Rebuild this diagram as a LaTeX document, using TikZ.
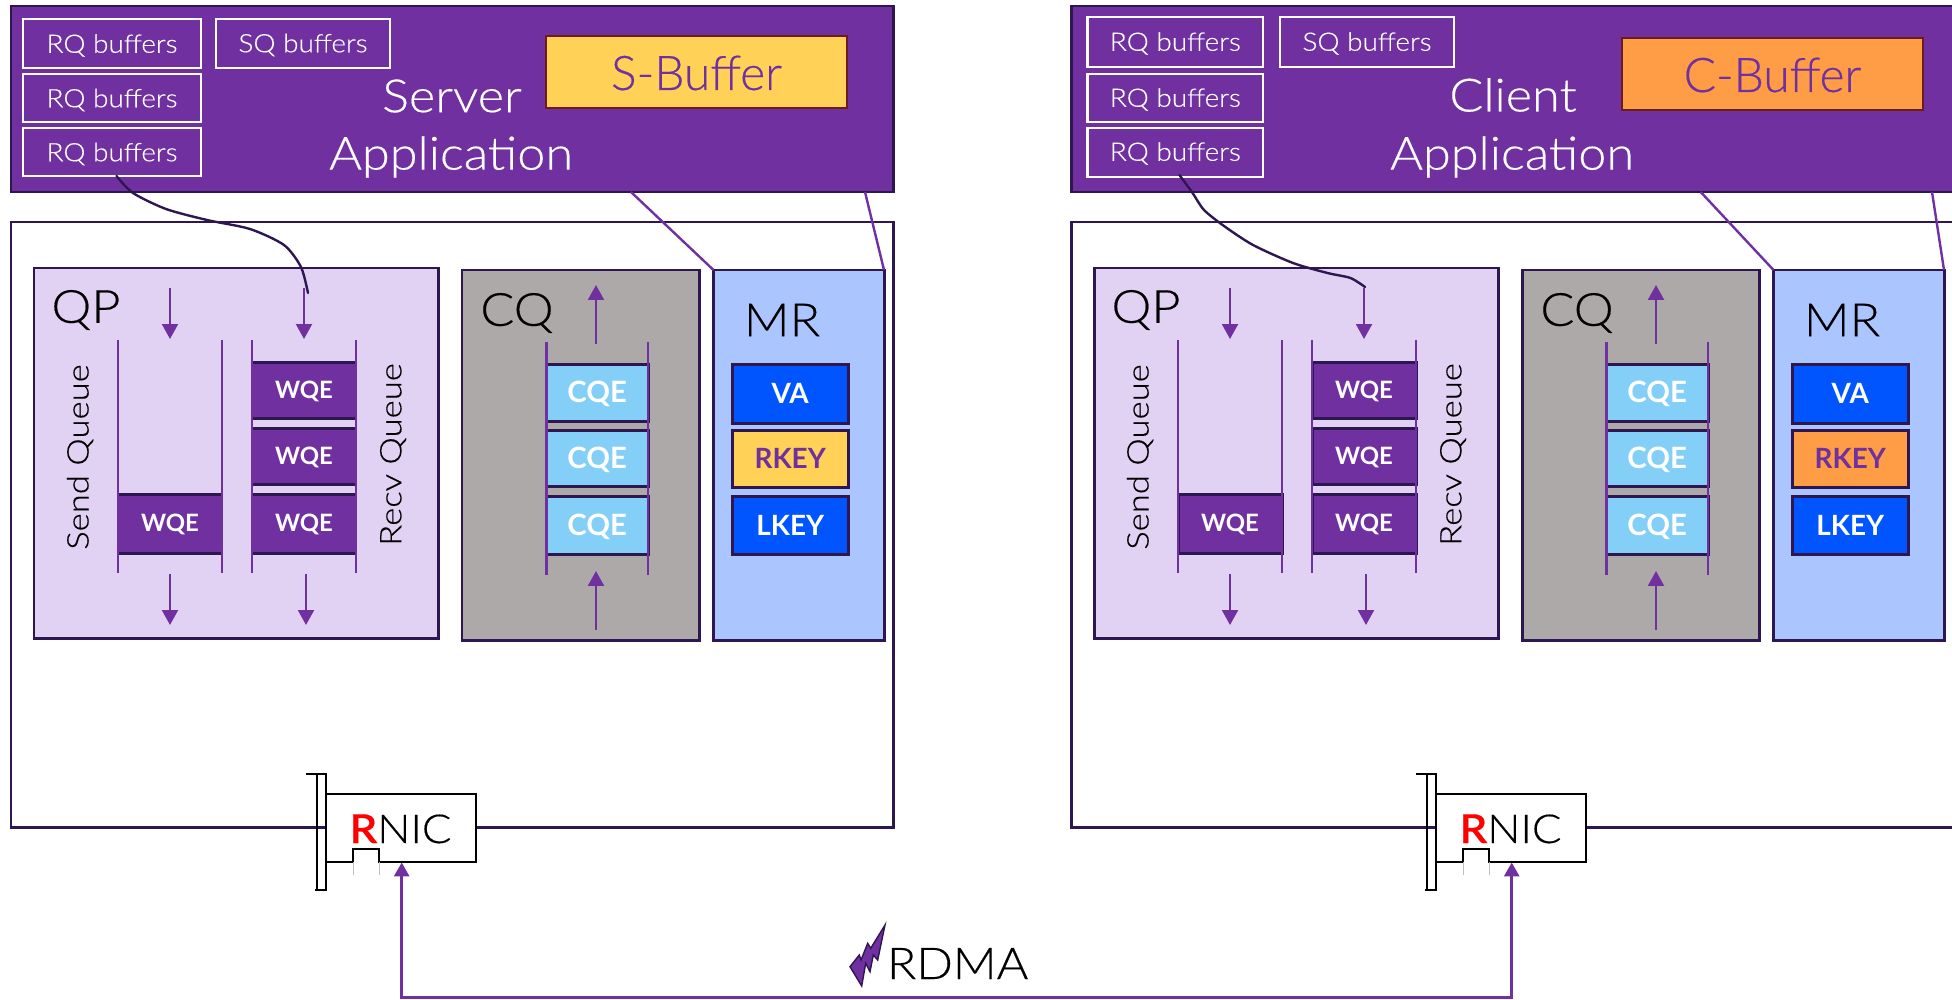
\documentclass[tikz,border=0pt]{standalone}
\usepackage{fontspec}
\setmainfont{Lato}
\newfontfamily\lite{Lato Light}[FakeBold=0.35]
\newfontfamily\litew{Lato Light}[FakeStretch=1.1,FakeBold=0.35]
\newfontfamily\liteq{Lato Light}[FakeStretch=1.16,FakeBold=0.3]
\usetikzlibrary{arrows.meta}
\definecolor{pur}{HTML}{7030A0}
\definecolor{dk}{HTML}{2E1650}
\definecolor{qpf}{HTML}{E1D1F3}
\definecolor{cqf}{HTML}{ADA9A9}
\definecolor{mrf}{HTML}{ABC6FF}
\definecolor{yel}{HTML}{FFD257}
\definecolor{ora}{HTML}{FF9D47}
\definecolor{blu}{HTML}{0055FF}
\definecolor{cqe}{HTML}{84CFF7}
\definecolor{bufb}{HTML}{6B1D1D}
% lower a node's text by half of #1
\newcommand\dn[2]{\raisebox{0pt}[\dimexpr\height+#1\relax][\depth]{#2}}
\tikzset{
  x=1bp,y=-1bp,
  plain/.style={draw=dk,line width=3pt,inner sep=0pt,outer sep=0pt,anchor=center},
  buf/.style={draw=white,line width=2.4pt,fill=pur,text=white,inner sep=0pt,outer sep=0pt,font=\litew\fontsize{25.5}{25.5}\selectfont},
  wqe/.style={plain,fill=pur,text=white,font=\bfseries\fontsize{24}{24}\selectfont},
  cqebox/.style={plain,fill=cqe,text=white,font=\bfseries\fontsize{29.5}{29.5}\selectfont},
  key/.style={plain,fill=blu,text=white,font=\bfseries\fontsize{28}{28}\selectfont},
  bigbuf/.style={draw=bufb,line width=2.8pt,inner sep=0pt,outer sep=0pt,text=pur,font=\lite\fontsize{48}{48}\selectfont},
  lab/.style={inner sep=0pt,outer sep=0pt,font=\litew\fontsize{46}{46}\selectfont},
  vlab/.style={inner sep=0pt,outer sep=0pt,rotate=90,font=\liteq\fontsize{30}{30}\selectfont},
  qline/.style={draw=pur,line width=2.4pt},
  arr/.style={draw=pur,line width=2.2pt,-{Triangle[length=15pt,width=16pt]}},
  link/.style={draw=pur,line width=2.4pt},
  wire/.style={draw=dk,line width=2.4pt,line cap=round},
  card/.style={draw=black,line width=2.4pt},
  net/.style={draw=pur,line width=3pt,{Triangle[length=14pt,width=15pt]}-{Triangle[length=14pt,width=15pt]}}
}
% \bx[style]{name}{x1}{y1}{x2}{y2}{text}
\newcommand\bx[7][]{%
  \pgfmathsetmacro\cxx{(#3+#5)/2}\pgfmathsetmacro\cyy{(#4+#6)/2}%
  \pgfmathsetmacro\wwd{#5-#3}\pgfmathsetmacro\hht{#6-#4}%
  \node[#1,minimum width=\wwd bp,minimum height=\hht bp] (#2) at (\cxx,\cyy) {#7};}
% \qsides{name}{x1}{x2}{y1}{y2}
\newcommand\qsides[5]{%
  \coordinate (#1a) at (#2,#4); \coordinate (#1b) at (#2,#5);
  \coordinate (#1c) at (#3,#4); \coordinate (#1d) at (#3,#5);
  \draw[qline] (#1a) -- (#1b); \draw[qline] (#1c) -- (#1d);}
\newcommand\arrw[5]{%
  \coordinate (#1s) at (#2,#3); \coordinate (#1e) at (#4,#5);
  \draw[arr] (#1s) -- (#1e);}
% panel: prefix, key fill, right edge of the outer box
\newcommand\panel[3]{%
  \bx[plain,fill=white]{#1outer}{11}{222}{#3}{827}{}
  \bx[plain,fill=qpf]{#1qp}{34}{268}{438.5}{638}{}
  \bx[plain,fill=cqf]{#1cq}{462}{270}{699}{640}{}
  \bx[plain,fill=mrf]{#1mr}{713.5}{270}{884}{640}{}
  \node[lab] (#1qpl) at (86,310) {QP};
  \node[lab] (#1cql) at (517,313) {CQ};
  \node[lab] (#1mrl) at (782,320) {MR};
  \node[vlab] (#1sq) at (80,457) {Send Queue};
  \node[vlab] (#1rq) at (393,454.5) {Recv Queue};
  \bx[wqe]{#1w1}{118}{494}{222}{553}{\dn{2pt}{WQE}}
  \bx[wqe]{#1w2}{252}{362}{356}{418}{\dn{2pt}{WQE}}
  \bx[wqe]{#1w3}{252}{428}{356}{484}{\dn{2pt}{WQE}}
  \bx[wqe]{#1w4}{252}{494}{356}{553}{\dn{2pt}{WQE}}
  \bx[cqebox]{#1c1}{546.5}{364}{648}{421}{\dn{3pt}{CQE}}
  \bx[cqebox]{#1c2}{546.5}{430}{648}{486}{\dn{3pt}{CQE}}
  \bx[cqebox]{#1c3}{546.5}{496}{648}{554}{\dn{3pt}{CQE}}
  \qsides{#1sl}{118}{222}{340}{573}
  \qsides{#1rl}{252}{356}{340}{573}
  \qsides{#1cl}{546.5}{648}{342}{575}
  \bx[key]{#1va}{732}{364}{848.5}{423}{VA}
  \bx[key,fill=#2,text=pur]{#1rk}{732}{430}{848.5}{487}{RKEY}
  \bx[key]{#1lk}{732}{496}{848.5}{554}{LKEY}
  \arrw{#1a1}{170}{288}{170}{339}
  \arrw{#1a2}{304}{288}{304}{339}
  \arrw{#1a3}{170}{574}{170}{625}
  \arrw{#1a4}{306}{574}{306}{625}
  \arrw{#1a5}{596}{344}{596}{285}
  \arrw{#1a6}{596}{630}{596}{571}
}
% RNIC card, prefix
\newcommand\rnic[1]{%
  \bx[draw=white,fill=white,inner sep=0pt,outer sep=0pt]{#1card}{327}{794}{476}{862}{}
  \draw[card] (327,794) -- (476,794) -- (476,862) -- (379,862) -- (379,849) -- (353,849) -- (353,862) -- (327,862);
  \draw[card] (306,774) -- (326,774) -- (326,890) -- (315,890);
  \draw[card] (317,774) -- (317,890);
  \draw[gray!50,line width=.6pt] (353,862) -- (353,875) (379,862) -- (379,875);
  \node[inner sep=0pt,outer sep=0pt,anchor=base west,font=\litew\fontsize{40}{40}\selectfont] (#1txt) at (349.5,843) {{\bfseries\color{red}R}NIC};
  \coordinate (#1in) at (401.7,862.5);
  \coordinate (#1low) at (401.7,997.5);
}
\begin{document}
\begin{tikzpicture}
\path[use as bounding box,clip] (0,0) rectangle (1952,999);
\fill[white] (0,0) rectangle (1952,999);
% left
\bx[plain,fill=pur]{lapp}{11}{6}{893}{192}{}
\panel{l}{yel}{893}
\bx[buf]{lb1}{23}{19}{201}{68}{\dn{4pt}{RQ buffers}}
\bx[buf]{lb2}{23}{74}{201}{122}{\dn{4pt}{RQ buffers}}
\bx[buf]{lb3}{23}{128}{201}{176}{\dn{4pt}{RQ buffers}}
\bx[buf]{lb4}{216}{19}{390}{68}{\dn{3pt}{SQ buffers}}
\bx[bigbuf,fill=yel]{lbuf}{546}{36}{847}{108}{\dn{2pt}{S-Buffer}}
\node[lab,text=white] (lserver) at (452,96) {Server};
\node[lab,text=white] (lappl) at (451,157) {Application};
\coordinate (ll1) at (631,192); \coordinate (ll2) at (865,192);
\draw[link] (ll1) -- (lmr.north west);
\draw[link] (ll2) -- (lmr.north east);
\coordinate (lws) at (116.5,176); \coordinate (lwe) at (308,293);
\draw[wire] plot[smooth,tension=.45] coordinates {(lws) (133,193) (166,209) (207,220) (250,229) (284,245) (301,267) (lwe)};
\rnic{l}
% right
\bx[plain,fill=pur]{rapp}{1071}{6}{1960}{192}{}
\begin{scope}[xshift=1060bp]
\panel{r}{ora}{900}
\end{scope}
\bx[buf]{rb1}{1087.6}{17}{1263}{67}{\dn{3pt}{RQ buffers}}
\bx[buf]{rb2}{1087.6}{74}{1263}{122}{\dn{3pt}{RQ buffers}}
\bx[buf]{rb3}{1087.6}{128}{1263}{177}{\dn{2pt}{RQ buffers}}
\bx[buf]{rb4}{1280}{17}{1454}{67}{\dn{3pt}{SQ buffers}}
\bx[bigbuf,fill=ora]{rbuf}{1622}{38}{1923}{110}{\dn{2pt}{C-Buffer}}
\node[lab,text=white] (rclient) at (1513,95) {Client};
\node[lab,text=white] (rappl) at (1512,157) {Application};
\coordinate (rl1) at (1700.7,192); \coordinate (rl2) at (1932,192);
\draw[link] (rl1) -- (rmr.north west);
\draw[link] (rl2) -- (rmr.north east);
\coordinate (rws) at (1179.4,175); \coordinate (rwe) at (1365,287);
\draw[wire] plot[smooth,tension=.45] coordinates {(rws) (1192.6,193) (1204,210) (1224,226) (1253,245) (1293,263) (1327.5,273) (1350.5,278) (rwe)};
\begin{scope}[xshift=1110bp]
\rnic{r}
\end{scope}
% network
\draw[net] (lin) -- (llow) -- (rlow) -- (rin);
\filldraw[fill=pur,draw=dk,line width=1.4pt,line join=miter] (885,925) -- (877.7,960) -- (873.3,955) -- (870,971.7) -- (865.7,963.3) -- (861.7,986) -- (850,966.7) -- (859.3,955) -- (861,960) -- (867.7,943.3) -- (870.7,948.3) -- cycle;
\node[inner sep=0pt,outer sep=0pt,anchor=base west,font=\litew\fontsize{44}{44}\selectfont] (rdma) at (887,979) {RDMA};
\end{tikzpicture}
\end{document}
